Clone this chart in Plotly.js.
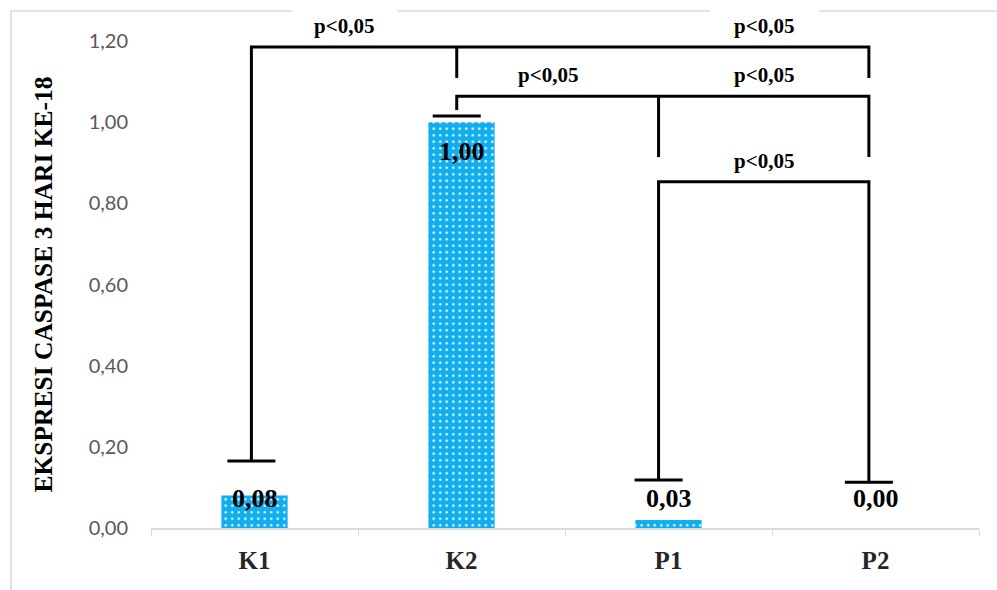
<!DOCTYPE html>
<html>
<head>
<meta charset="utf-8">
<script src="https://cdn.plot.ly/plotly-3.0.1.min.js"></script>
<style>html,body{margin:0;padding:0;background:#fff;}#chart{width:997px;height:590px;}</style>
</head>
<body>
<div id="chart"></div>
<script>
// ---- data ----
const categories = ['K1', 'K2', 'P1', 'P2'];
const values = [0.08, 1.00, 0.02, 0.00];
const valueLabels = ['0,08', '1,00', '0,03', '0,00'];
const capLevels = [0.165, 1.015, 0.118, 0.113];
const bracketLevels = [1.185, 1.064, 0.853];
const bracketDrops = [
  [capLevels[0], 1.109, null, 1.109],
  [null, 1.030, 0.914, 0.914],
  [null, null, capLevels[2], capLevels[3]]
];
// comparisons: [left category, right category, bracket index]
const comparisons = [[0, 1, 0], [2, 3, 0], [1, 2, 1], [2, 3, 1], [2, 3, 2]];
const sigLabel = 'p<0,05';
const yTitle = 'EKSPRESI CASPASE 3 HARI KE-18';

// ---- layout helpers ----
const W = 997, H = 590;
const M = {l: 151, r: 18, t: 41, b: 62};
const plotW = W - M.l - M.r, plotH = H - M.t - M.b;
const pxX = x => (x - M.l) / plotW;
const pxY = y => (H - M.b - y) / plotH;
const anchorOffset = [-0.015, -0.023, -0.048, -0.032];
const anchor = i => i + anchorOffset[i];
const capHalf = 0.116;
const LW = 3;
const serif = 'Liberation Serif, Times New Roman, serif';

const shapes = [];
// outer border (left + top, with gaps behind the top labels)
const borderCol = '#d9d9d9';
shapes.push({type: 'line', xref: 'paper', yref: 'paper', x0: pxX(11), x1: pxX(11), y0: pxY(11), y1: pxY(600), line: {color: borderCol, width: 1.5}});
[[11, 292], [398, 710], [819, 1000]].forEach(s => {
  shapes.push({type: 'line', xref: 'paper', yref: 'paper', x0: pxX(s[0]), x1: pxX(s[1]), y0: pxY(11), y1: pxY(11), line: {color: borderCol, width: 1.5}});
});

// brackets
bracketLevels.forEach((lvl, b) => {
  const drops = bracketDrops[b];
  const idx = drops.map((d, i) => d === null ? -1 : i).filter(i => i >= 0);
  const first = idx[0], last = idx[idx.length - 1];
  shapes.push({type: 'path', xref: 'x', yref: 'y',
    path: `M ${anchor(first)} ${drops[first]} L ${anchor(first)} ${lvl} L ${anchor(last)} ${lvl} L ${anchor(last)} ${drops[last]}`,
    line: {color: '#000', width: LW}});
  idx.slice(1, -1).forEach(i => {
    shapes.push({type: 'line', xref: 'x', yref: 'y', x0: anchor(i), x1: anchor(i), y0: lvl, y1: drops[i], line: {color: '#000', width: LW}});
  });
});
// caps
capLevels.forEach((c, i) => {
  shapes.push({type: 'line', xref: 'x', yref: 'y', x0: anchor(i) - capHalf, x1: anchor(i) + capHalf, y0: c, y1: c, line: {color: '#000', width: LW}});
});

const annotations = [];
// value labels
values.forEach((v, i) => {
  annotations.push({x: categories[i], y: v > 0.5 ? v - 0.073 : 0.0715, xref: 'x', yref: 'y',
    text: valueLabels[i], showarrow: false, yanchor: 'middle',
    font: {family: serif, size: 26, color: '#000', weight: 'bold'}});
});
// significance labels
comparisons.forEach(c => {
  const xm = (anchor(c[0]) + anchor(c[1])) / 2;
  annotations.push({x: xm, y: bracketLevels[c[2]], xref: 'x', yref: 'y', yshift: 21,
    xshift: c[0] < 2 ? -10 : 0,
    text: sigLabel, showarrow: false, yanchor: 'middle',
    font: {family: serif, size: 21, color: '#000', weight: 'bold'}});
});

const barCol = '#10aeee';
const trace = {
  type: 'bar', x: categories, y: values, width: 0.32,
  marker: {color: barCol, line: {width: 0},
    pattern: {shape: '.', fgcolor: '#ffffff', bgcolor: barCol, size: 6.5, solidity: 0.12}},
  hoverinfo: 'skip'
};

const layout = {
  width: W, height: H, margin: M,
  paper_bgcolor: '#fff', plot_bgcolor: '#fff',
  separators: ',.',
  showlegend: false, bargap: 0.68,
  xaxis: {type: 'category', tickson: 'boundaries', ticks: 'outside', ticklen: 6, tickcolor: '#d9d9d9', tickwidth: 1,
    showline: true, linecolor: '#d9d9d9', linewidth: 1.5, showgrid: false, zeroline: false,
    tickfont: {family: serif, size: 25, color: '#262626', weight: 'bold'}, ticklabelstandoff: 9},
  yaxis: {range: [0, 1.2], dtick: 0.2, tick0: 0, tickformat: '.2f', showgrid: false, zeroline: false, showline: false,
    ticks: '', tickfont: {family: 'Lato, sans-serif', size: 20, color: '#595959'}, ticklabelstandoff: 22,
    title: {text: yTitle, font: {family: serif, size: 25.5, color: '#000', weight: 'bold'}, standoff: 28}},
  shapes: shapes, annotations: annotations
};

Plotly.newPlot('chart', [trace], layout, {staticPlot: true, displayModeBar: false});
</script>
</body>
</html>
